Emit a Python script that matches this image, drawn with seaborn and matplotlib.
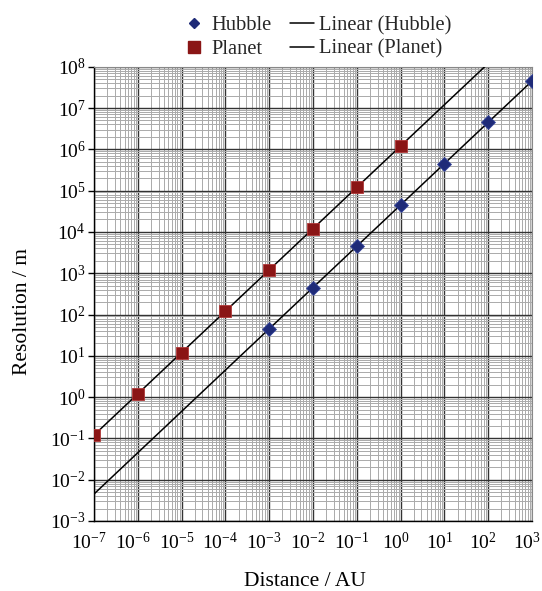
import numpy as np
import pandas as pd
import matplotlib
matplotlib.use("Agg")
import matplotlib.pyplot as plt
import matplotlib.transforms as mtransforms
import seaborn as sns
from matplotlib.ticker import LogLocator
from matplotlib.lines import Line2D

# data
hubble_x = [1e-3, 1e-2, 1e-1, 1e0, 1e1, 1e2, 1e3]
hubble_y = [45, 450, 4500, 45000, 4.5e5, 4.5e6, 4.5e7]
planet_x = [1e-7, 1e-6, 1e-5, 1e-4, 1e-3, 1e-2, 1e-1, 1e0]
planet_y = [0.12, 1.2, 12, 120, 1200, 12000, 1.2e5, 1.2e6]
x_range = [1e-7, 1e3]
y_range = [1e-3, 1e8]

sns.set_theme(style="white")
plt.rcParams['font.family'] = ['Liberation Serif', 'DejaVu Serif']
plt.rcParams['mathtext.fontset'] = 'custom'
plt.rcParams['mathtext.rm'] = 'Liberation Serif'
plt.rcParams['mathtext.it'] = 'Liberation Serif:italic'

W, H = 542, 591
fig = plt.figure(figsize=(W / 100, H / 100), dpi=100)
L, R, T, B = 94, 532, 66.7, 521
ax = fig.add_axes([L / W, 1 - B / H, (R - L) / W, (B - T) / H])

navy = '#1f2b78'
dred = '#8a1515'

# power-law fits
def fit_line(xs, ys):
    p = np.polyfit(np.log10(xs), np.log10(ys), 1)
    lx = np.logspace(np.log10(x_range[0]), np.log10(x_range[1]), 200)
    return lx, 10 ** np.polyval(p, np.log10(lx))

hx, hy = fit_line(hubble_x, hubble_y)
px, py = fit_line(planet_x, planet_y)
sns.lineplot(x=hx, y=hy, ax=ax, color='black', lw=1.1, zorder=3)
sns.lineplot(x=px, y=py, ax=ax, color='black', lw=1.1, zorder=3)

sns.scatterplot(x=hubble_x, y=hubble_y, ax=ax, marker='D', s=50, color=navy,
                edgecolor='#34449a', linewidth=0.6, zorder=4)
sns.scatterplot(x=planet_x, y=planet_y, ax=ax, marker='s', s=85, color=dred,
                edgecolor='#b03838', linewidth=0.6, zorder=4)

ax.set_xscale('log')
ax.set_yscale('log')
ax.set_xlim(x_range)
ax.set_ylim(y_range)

ax.xaxis.set_major_locator(LogLocator(base=10, numticks=20))
ax.yaxis.set_major_locator(LogLocator(base=10, numticks=20))
ax.xaxis.set_minor_locator(LogLocator(base=10, subs=np.arange(2, 10), numticks=100))
ax.yaxis.set_minor_locator(LogLocator(base=10, subs=np.arange(2, 10), numticks=100))

ax.grid(True, which='major', color='#333333', lw=1.0, zorder=1)
ax.grid(True, which='minor', color='#aaaaaa', lw=0.7, zorder=0)
ax.set_axisbelow(True)

ax.tick_params(axis='y', which='major', direction='out', length=4, width=1,
               color='black', labelsize=14, labelcolor='black', left=True, pad=2)
ax.tick_params(axis='x', which='major', direction='out', length=0,
               labelsize=14, labelcolor='black', bottom=True, pad=8)
ax.tick_params(axis='both', which='minor', length=0)

# shift x tick labels slightly left, as in the reference
offset = mtransforms.ScaledTranslation(-5 / 100, 0, fig.dpi_scale_trans)
for lbl in ax.get_xticklabels():
    lbl.set_transform(lbl.get_transform() + offset)

for s in ['left', 'bottom']:
    ax.spines[s].set_color('black')
    ax.spines[s].set_linewidth(1.0)
for s in ['top', 'right']:
    ax.spines[s].set_color('#888888')
    ax.spines[s].set_linewidth(0.8)

ax.set_xlabel('Distance / AU', fontsize=15.5, color='black', va='center')
ax.set_ylabel('Resolution / m', fontsize=15.5, color='black', va='center')
ax.xaxis.set_label_coords((305 - L) / (R - L), (B - 581) / (B - T))
ax.yaxis.set_label_coords((23 - L) / (R - L), (B - 311) / (B - T))

handles = [
    Line2D([], [], marker='D', color=navy, linestyle='none', markersize=5.5),
    Line2D([], [], marker='s', color=dred, linestyle='none', markersize=8),
    Line2D([], [], color='black', lw=1.1),
    Line2D([], [], color='black', lw=1.1),
]
labels = ['Hubble', 'Planet', 'Linear (Hubble)', 'Linear (Planet)']
fig.legend(handles, labels, ncol=2, loc='upper left', bbox_to_anchor=(182 / W, 1 - 16 / H),
           frameon=False, fontsize=14.8, handlelength=1.2, handletextpad=0.25,
           columnspacing=0.85, labelspacing=0.2, borderpad=0, borderaxespad=0)

fig.savefig('out.png', dpi=100)
